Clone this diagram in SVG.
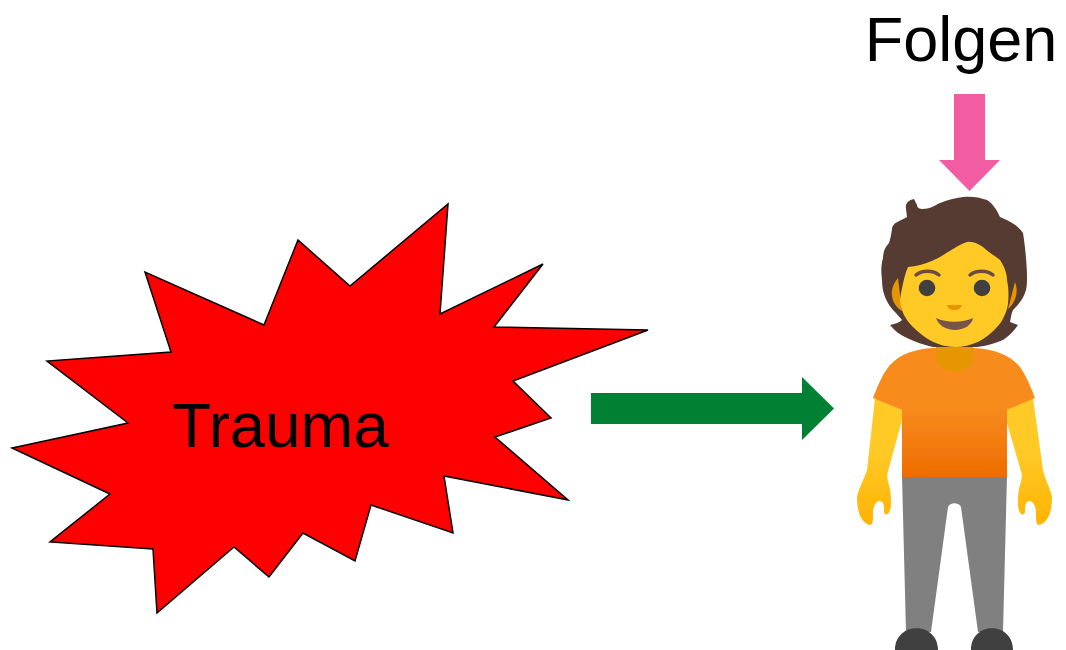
<svg xmlns="http://www.w3.org/2000/svg" width="1066" height="650" viewBox="0 0 1066 650">
<style>
text{font-family:"Liberation Sans",Arial,sans-serif;fill:#000}
</style>
<defs>
<linearGradient id="shirt" gradientUnits="userSpaceOnUse" x1="0" y1="348" x2="0" y2="477"><stop offset="0.45" stop-color="#f78c1f"/><stop offset="1" stop-color="#ef6c00"/></linearGradient>
<linearGradient id="skin" gradientUnits="userSpaceOnUse" x1="0" y1="400" x2="0" y2="526"><stop offset="0.4" stop-color="#ffca28"/><stop offset="1" stop-color="#ffb300"/></linearGradient>
<filter id="soft" x="-5%" y="-5%" width="110%" height="110%"><feGaussianBlur stdDeviation="0.6"/></filter>
</defs>
<rect width="1066" height="650" fill="#fff"/>
<g id="trauma">
<polygon points="448,204 440,314 543,264 494,327 648,330 513,381 551,418 495,437 568,500 444,476 453,533 371,505 355,561 303,533 269,577 234,547 157,613 153,549 50,542 110,494 12,448 128,423 47,361 171,352 145,272 264,325 298,240 350,286" fill="#ff0000" stroke="#000" stroke-width="1.5"/>
<text x="280.500" y="447" font-size="63.500" text-anchor="middle">Trauma</text>
</g>
<g id="folgen">
<text x="961" y="61" font-size="63" text-anchor="middle">Folgen</text>
</g>
<g id="connectors">
<polygon points="954,94 985,94 985,160 1000,160 969.500,191 939,160 954,160" fill="#f25ca2"/>
<polygon points="591,393 802,393 802,377 834,408.500 802,440 802,424 591,424" fill="#008033"/>
</g>
<g id="person" filter="url(#soft)">
<path d="M902,476 L1007,476 L1003,632 L978,632 L961,507 C959,502 950,502 948,507 L931,632 L906,632Z" fill="#808080"/>
<path d="M895,650 C895,621 938,621 938,650Z M971,650 C971,621 1013,621 1013,650Z" fill="#404040"/>
<path d="M875,398 L902,410 L902,420 L887,475 L888,482 C891,490 891,497 891,505 C890,516 885,516 884,512 C884,506 884,502 880,501 C875,501 873,508 873,513 C873,520 873,525 870,525 C862,523 857,514 857,497 C859,487 864,480 867,470Z" fill="url(#skin)"/>
<path d="M1033,398 L1007,410 L1007,423 L1022,475 L1021,482 C1018,490 1018,497 1018,505 C1019,516 1024,516 1025,512 C1025,506 1025,502 1029,501 C1034,501 1036,508 1036,513 C1036,520 1036,525 1039,525 C1047,523 1052,514 1052,497 C1050,487 1045,480 1043,470Z" fill="url(#skin)"/>
<path d="M873,398 C878,385 883,373 890,365 C900,354 915,349 933,348 L973,348 C995,349 1010,355 1020,367 C1027,377 1031,388 1035,398 L1007,410 L1007,477 L902,477 L902,410Z" fill="url(#shirt)"/>
<path d="M936,346 L973,346 L973,358 C973,367 965,371 955,371 C945,371 936,367 936,358Z" fill="#e59600"/>
<path d="M914,199 C908,200 905,204 906,209 L907,217 C900,221 892,223 892,229 C891,236 890,240 889,243 C885,247 883,252 883,258 C881,265 881,272 882,280 C882,286 883,292 885,297 C888,304 891,308 895,312 L902,320 C899,323 894,324 890,325 C895,331 900,335 907,338 C915,342 924,345 933,347 L977,347 C986,346 996,343 1003,340 C1009,336 1014,331 1018,325 L1010,322 C1011,318 1011,314 1013,310 C1019,304 1023,299 1025,293 C1027,288 1027,283 1027,277 C1027,265 1025,245 1023,233 C1018,225 1009,221 1000,217 C997,210 993,204 987,200 C979,197 971,196 963,197 C955,198 947,200 940,203 C934,206 929,209 923,209 C920,209 917,208 917,205Z" fill="#573b31"/>
<path d="M898,278 C893,284 891,290 892,296 C893,303 897,308 902,311Z M1015,282 C1017,287 1017,291 1016,296 C1014,302 1012,306 1008,309Z" fill="#e59600"/>
<path d="M900,300 C902,288 904,276 908,267 C920,266 931,262 940,257 C950,251 958,245 967,242 C973,241 978,244 983,247 C988,252 995,256 1000,260 C1004,266 1007,273 1007,280 C1009,290 1009,300 1007,309 C1004,318 1001,323 997,327 C986,340 971,347 955,347 C938,347 924,338 913,327 C905,319 901,311 900,300Z" fill="#ffca28"/>
<circle cx="927" cy="288" r="8.300" fill="#404040"/>
<circle cx="982" cy="288" r="8.300" fill="#404040"/>
<path d="M916,275 C922,270 933,270 939,275 M970,275 C976,270 987,270 993,275" fill="none" stroke="#6d4c41" stroke-width="3.500" stroke-linecap="round"/>
<path d="M947,305 L962,305 C961,309 958,310 954,310 C951,310 948,309 947,305Z" fill="#e59600"/>
<path d="M936,318 C947,323 962,323 973,318 C972,325 964,330 955,330 C946,330 938,325 936,318Z" fill="#795548"/>
</g>
</svg>
